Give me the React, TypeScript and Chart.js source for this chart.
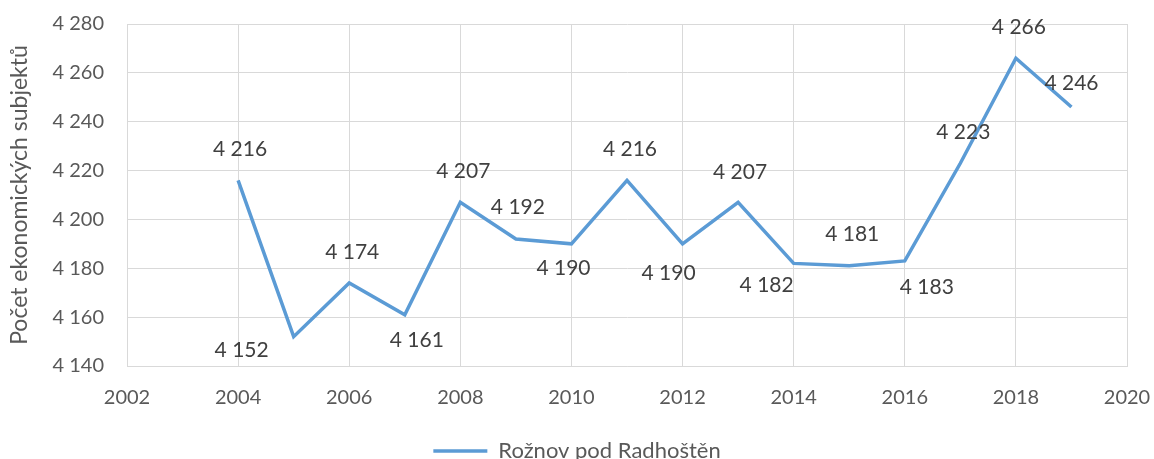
import React, { useEffect, useRef } from "react";
import { Chart, registerables } from "chart.js";

Chart.register(...registerables);

// ---- data ----
const years = [2004, 2005, 2006, 2007, 2008, 2009, 2010, 2011, 2012, 2013, 2014, 2015, 2016, 2017, 2018, 2019];
const values = [4216, 4152, 4174, 4161, 4207, 4192, 4190, 4216, 4190, 4207, 4182, 4181, 4183, 4223, 4266, 4246];
const seriesName = "Rožnov pod Radhoštěn";
const yAxisTitle = "Počet ekonomických subjektů";
const xTickRange = [2002, 2020, 2];
const yTickRange = [4140, 4280, 20];

// ---- label placement (pixel offsets of each data label from its point) ----
const labelDx = [2, -52, 3, 12, 3, 2, -8, 3, -14, 2, -27, 3, 22, 3, 3, 0];
const labelDy = [-31, 14, -31, 26, -31, -32, 24, -31, 29, -30, 22, -32, 26, -31, -31, -24];

const FONT = "Lato, 'Open Sans', sans-serif";
const fmt = (v: number) => Math.round(v).toString().replace(/\B(?=(\d{3})+(?!\d))/g, " ");

const dataLabelPlugin = {
  id: "dataLabels",
  afterDatasetsDraw(chart: any) {
    const meta = chart.getDatasetMeta(0);
    const ctx = chart.ctx;
    ctx.save();
    ctx.font = `21px ${FONT}`;
    ctx.fillStyle = "#404040";
    ctx.textAlign = "center";
    ctx.textBaseline = "middle";
    meta.data.forEach((pt: any, i: number) => {
      ctx.fillText(fmt(values[i]), pt.x + labelDx[i], pt.y + labelDy[i]);
    });
    ctx.restore();
  },
};

export default function App() {
  const ref = useRef<HTMLCanvasElement | null>(null);
  useEffect(() => {
    if (!ref.current) return;
    const chart = new Chart(ref.current, {
      type: "line",
      data: {
        datasets: [
          {
            label: seriesName,
            data: years.map((y, i) => ({ x: y, y: values[i] })),
            borderColor: "#5B9BD5",
            backgroundColor: "#5B9BD5",
            borderWidth: 3.5,
            pointRadius: 0,
            tension: 0,
            fill: false,
          },
        ],
      },
      options: {
        animation: false,
        responsive: false,
        maintainAspectRatio: false,
        layout: { padding: 0 },
        plugins: {
          tooltip: { enabled: false },
          legend: {
            position: "bottom",
            labels: {
              color: "#595959",
              font: { family: FONT, size: 22 },
              usePointStyle: true,
              pointStyle: "line",
              pointStyleWidth: 54,
              padding: 10,
            },
          },
        },
        scales: {
          x: {
            type: "linear",
            min: xTickRange[0],
            max: xTickRange[1],
            grid: { color: "#d9d9d9", lineWidth: 1, drawTicks: false },
            border: { color: "#d9d9d9" },
            afterFit: (s: any) => {
              s.height = 64;
              s.paddingLeft = 0;
              s.paddingRight = 27;
            },
            ticks: {
              stepSize: xTickRange[2],
              padding: 20,
              color: "#595959",
              font: { family: FONT, size: 20 },
              maxRotation: 0,
              callback: (v: any) => String(v),
            },
          },
          y: {
            min: yTickRange[0],
            max: yTickRange[1],
            grid: { color: "#d9d9d9", lineWidth: 1, drawTicks: false },
            border: { color: "#d9d9d9" },
            afterFit: (s: any) => {
              s.width = 127;
              s.paddingTop = 24;
              s.paddingBottom = 0;
            },
            title: {
              display: true,
              text: yAxisTitle,
              color: "#595959",
              font: { family: FONT, size: 23 },
              padding: { top: 6, bottom: 0 },
            },
            ticks: {
              stepSize: yTickRange[2],
              padding: 23,
              color: "#595959",
              font: { family: FONT, size: 20 },
              callback: (v: any) => fmt(Number(v)),
            },
          },
        },
      },
      plugins: [dataLabelPlugin],
    });
    return () => chart.destroy();
  }, []);

  return (
    <div style={{ position: "fixed", left: 0, top: 0, width: 1154, height: 459, overflow: "hidden", background: "#fff" }}>
      <canvas ref={ref} width={1154} height={472} style={{ display: "block", width: 1154, height: 472 }} />
    </div>
  );
}
